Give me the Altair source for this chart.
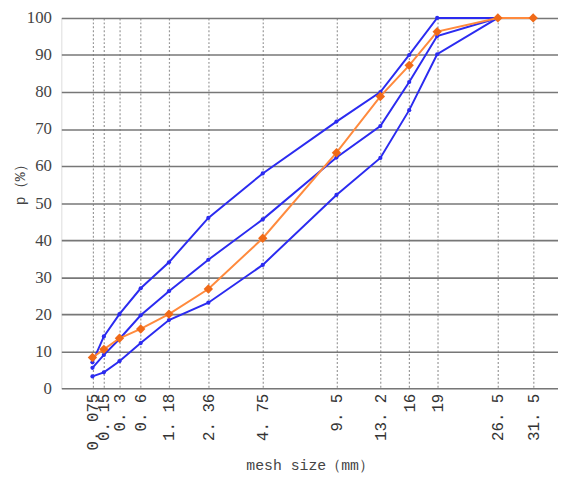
import altair as alt
import pandas as pd

sizes = [0.075, 0.15, 0.3, 0.6, 1.18, 2.36, 4.75, 9.5, 13.2, 16, 19, 26.5]
upper = [7, 14, 20, 27, 34, 46, 58, 72, 80, 90, 100, 100]
middle = [5.5, 9, 13.3, 19.7, 26.2, 34.7, 45.6, 62.3, 70.8, 82.7, 95.1, 100]
lower = [3.2, 4.3, 7.3, 12.2, 18.4, 23.1, 33.3, 52.2, 62.2, 75.1, 90.2, 100]
sizes_o = [0.075, 0.15, 0.3, 0.6, 1.18, 2.36, 4.75, 9.5, 13.2, 16, 19, 26.5, 31.5]
orange = [8.3, 10.5, 13.5, 16, 20, 26.8, 40.5, 63.6, 78.8, 87.2, 96.3, 100, 100]
tick_vals = [0.075, 0.15, 0.3, 0.6, 1.18, 2.36, 4.75, 9.5, 13.2, 16, 19, 26.5, 31.5]
y_ticks = [0, 10, 20, 30, 40, 50, 60, 70, 80, 90, 100]

rows = []
for name, vals in [("upper", upper), ("middle", middle), ("lower", lower)]:
    for s, v in zip(sizes, vals):
        rows.append({"size": s, "p": v, "series": name, "kind": "blue"})
for s, v in zip(sizes_o, orange):
    rows.append({"size": s, "p": v, "series": "mix", "kind": "orange"})
df = pd.DataFrame(rows)

MONO = "Liberation Mono"
SERIF = "Liberation Serif"

xscale = alt.Scale(type="pow", exponent=0.45, domain=[0, 35.3], nice=False, zero=False)
yscale = alt.Scale(domain=[0, 100], nice=False)

xaxis = alt.Axis(
    values=tick_vals, labelAngle=-90, labelAlign="right", labelBaseline="middle",
    labelExpr="replace(toString(datum.value), '.', '. ')",
    labelOverlap=False, labelBound=False, labelFlush=False,
    labelFont=MONO, labelFontSize=16, labelColor="#333",
    labelPadding=5, ticks=False, domain=False,
    grid=True, gridColor="#999", gridDash=[2, 2], gridWidth=1.2,
    title="mesh size（mm）", titleFont=MONO, titleFontSize=15,
    titleFontWeight="normal", titleColor="#444", titleY=70,
)
yaxis = alt.Axis(
    values=y_ticks, labelOverlap=False, labelFont=SERIF, labelFontSize=17,
    labelColor="#444", labelPadding=10, ticks=False, domain=False,
    grid=True, gridColor="#777", gridWidth=1.6,
    title="p（%）", titleFont=MONO, titleFontSize=15,
    titleFontWeight="normal", titleColor="#444", titleY=165, titleX=-34,
)

base = alt.Chart(df).encode(
    x=alt.X("size:Q", scale=xscale, axis=xaxis),
    y=alt.Y("p:Q", scale=yscale, axis=yaxis),
    detail="series:N",
    order="size:Q",
)

blue = base.transform_filter("datum.kind == 'blue'").mark_line(
    color="#2b2bf0", strokeWidth=2,
    point=alt.OverlayMarkDef(color="#2b2bf0", size=18, filled=True)
)
orng = base.transform_filter("datum.kind == 'orange'").mark_line(
    color="#ff8a3d", strokeWidth=2,
    point=alt.OverlayMarkDef(color="#f06a18", shape="diamond", size=90, filled=True)
)

chart = alt.layer(blue, orng).properties(
    width=503, height=375,
    autosize=alt.AutoSizeParams(type="none"),
    padding={"left": 54, "top": 7, "right": 0, "bottom": 100},
).configure_view(stroke="#999", strokeWidth=2).configure(background="white")

chart.save("out.html", embed_options={"renderer": "svg", "actions": False})
